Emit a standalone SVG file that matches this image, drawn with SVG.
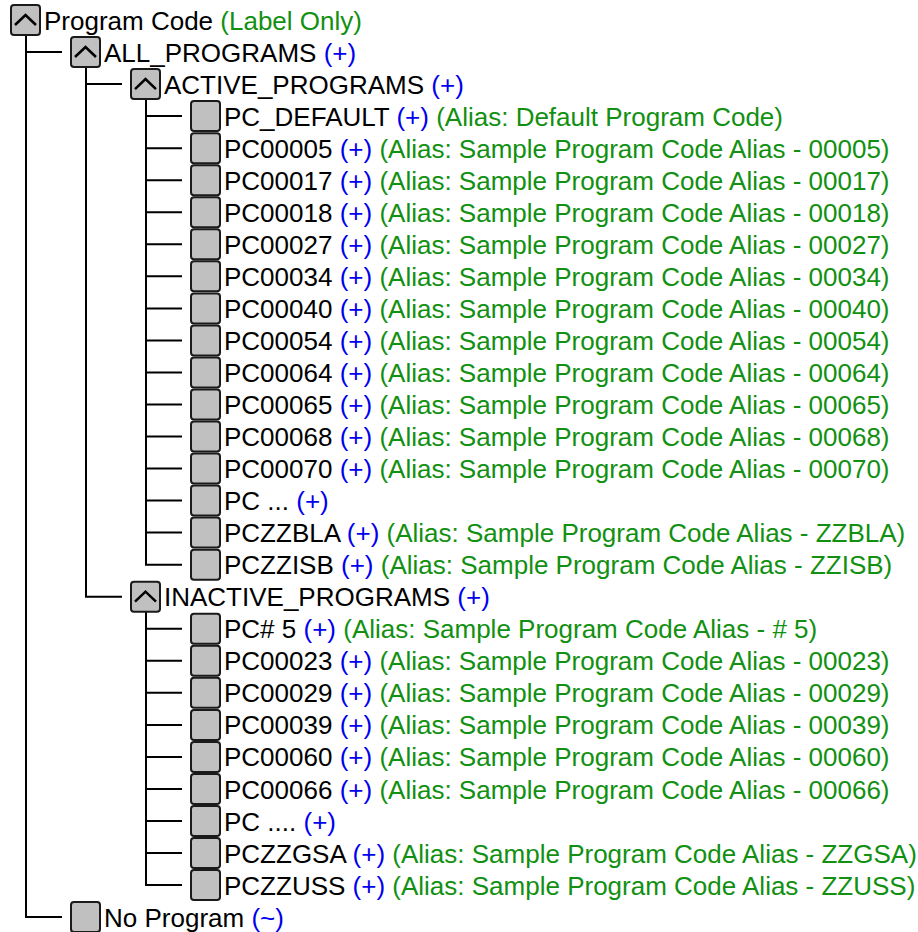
<svg xmlns="http://www.w3.org/2000/svg" xmlns:xlink="http://www.w3.org/1999/xlink" width="918" height="932" viewBox="0 0 918 932">
<style>
text{font-family:"Liberation Sans",Arial,sans-serif;font-size:26px;fill:#000}
.b{fill:#0000ee}
.g{fill:#119011}
.box{fill:#c0c0c0;stroke:#1a1a1a;stroke-width:2}
.chev{fill:none;stroke:#000;stroke-width:2.5}
.conn{fill:none;stroke:#000;stroke-width:2}
</style>
<defs>
<rect id="leaf" class="box" x="0" y="-15" width="29" height="30" rx="3"/>
<g id="open"><rect class="box" x="0" y="-15" width="29" height="30" rx="3"/><path class="chev" d="M4,5 L14.5,-5 L25,5"/></g>
</defs>
<rect width="918" height="932" fill="#fff"/>
<g id="connectors">
<path class="conn" d="M26,35 V917.1 H62 M26,52 H62"/>
<path class="conn" d="M86,67 V596.7 H122 M86,84.1 H122"/>
<path class="conn" d="M146,99 V564.7 H182 M146,116.1 H182 M146,148.2 H182 M146,180.2 H182 M146,212.2 H182 M146,244.3 H182 M146,276.3 H182 M146,308.4 H182 M146,340.4 H182 M146,372.4 H182 M146,404.5 H182 M146,436.5 H182 M146,468.6 H182 M146,500.6 H182 M146,532.6 H182"/>
<path class="conn" d="M146,611 V885.1 H182 M146,628.8 H182 M146,660.8 H182 M146,692.8 H182 M146,724.9 H182 M146,756.9 H182 M146,789 H182 M146,821 H182 M146,853 H182"/>
</g>
<g id="n0"><use xlink:href="#open" x="11" y="20"/><text x="44" y="29.5">Program Code<tspan class="g"> (Label Only)</tspan></text></g>
<g id="n1"><use xlink:href="#open" x="71" y="52"/><text x="104" y="61.5">ALL_PROGRAMS<tspan class="b"> (+)</tspan></text></g>
<g id="n2"><use xlink:href="#open" x="131" y="84.1"/><text x="164" y="93.6">ACTIVE_PROGRAMS<tspan class="b"> (+)</tspan></text></g>
<g id="n3"><use xlink:href="#leaf" x="191" y="116.1"/><text x="224" y="125.6">PC_DEFAULT<tspan class="b"> (+)</tspan><tspan class="g"> (Alias: Default Program Code)</tspan></text></g>
<g id="n4"><use xlink:href="#leaf" x="191" y="148.2"/><text x="224" y="157.7">PC00005<tspan class="b"> (+)</tspan><tspan class="g"> (Alias: Sample Program Code Alias - 00005)</tspan></text></g>
<g id="n5"><use xlink:href="#leaf" x="191" y="180.2"/><text x="224" y="189.7">PC00017<tspan class="b"> (+)</tspan><tspan class="g"> (Alias: Sample Program Code Alias - 00017)</tspan></text></g>
<g id="n6"><use xlink:href="#leaf" x="191" y="212.2"/><text x="224" y="221.7">PC00018<tspan class="b"> (+)</tspan><tspan class="g"> (Alias: Sample Program Code Alias - 00018)</tspan></text></g>
<g id="n7"><use xlink:href="#leaf" x="191" y="244.3"/><text x="224" y="253.8">PC00027<tspan class="b"> (+)</tspan><tspan class="g"> (Alias: Sample Program Code Alias - 00027)</tspan></text></g>
<g id="n8"><use xlink:href="#leaf" x="191" y="276.3"/><text x="224" y="285.8">PC00034<tspan class="b"> (+)</tspan><tspan class="g"> (Alias: Sample Program Code Alias - 00034)</tspan></text></g>
<g id="n9"><use xlink:href="#leaf" x="191" y="308.4"/><text x="224" y="317.9">PC00040<tspan class="b"> (+)</tspan><tspan class="g"> (Alias: Sample Program Code Alias - 00040)</tspan></text></g>
<g id="n10"><use xlink:href="#leaf" x="191" y="340.4"/><text x="224" y="349.9">PC00054<tspan class="b"> (+)</tspan><tspan class="g"> (Alias: Sample Program Code Alias - 00054)</tspan></text></g>
<g id="n11"><use xlink:href="#leaf" x="191" y="372.4"/><text x="224" y="381.9">PC00064<tspan class="b"> (+)</tspan><tspan class="g"> (Alias: Sample Program Code Alias - 00064)</tspan></text></g>
<g id="n12"><use xlink:href="#leaf" x="191" y="404.5"/><text x="224" y="414">PC00065<tspan class="b"> (+)</tspan><tspan class="g"> (Alias: Sample Program Code Alias - 00065)</tspan></text></g>
<g id="n13"><use xlink:href="#leaf" x="191" y="436.5"/><text x="224" y="446">PC00068<tspan class="b"> (+)</tspan><tspan class="g"> (Alias: Sample Program Code Alias - 00068)</tspan></text></g>
<g id="n14"><use xlink:href="#leaf" x="191" y="468.6"/><text x="224" y="478.1">PC00070<tspan class="b"> (+)</tspan><tspan class="g"> (Alias: Sample Program Code Alias - 00070)</tspan></text></g>
<g id="n15"><use xlink:href="#leaf" x="191" y="500.6"/><text x="224" y="510.1">PC ...<tspan class="b"> (+)</tspan></text></g>
<g id="n16"><use xlink:href="#leaf" x="191" y="532.6"/><text x="224" y="542.1">PCZZBLA<tspan class="b"> (+)</tspan><tspan class="g"> (Alias: Sample Program Code Alias - ZZBLA)</tspan></text></g>
<g id="n17"><use xlink:href="#leaf" x="191" y="564.7"/><text x="224" y="574.2">PCZZISB<tspan class="b"> (+)</tspan><tspan class="g"> (Alias: Sample Program Code Alias - ZZISB)</tspan></text></g>
<g id="n18"><use xlink:href="#open" x="131" y="596.7"/><text x="164" y="606.2">INACTIVE_PROGRAMS<tspan class="b"> (+)</tspan></text></g>
<g id="n19"><use xlink:href="#leaf" x="191" y="628.8"/><text x="224" y="638.3">PC# 5<tspan class="b"> (+)</tspan><tspan class="g"> (Alias: Sample Program Code Alias - # 5)</tspan></text></g>
<g id="n20"><use xlink:href="#leaf" x="191" y="660.8"/><text x="224" y="670.3">PC00023<tspan class="b"> (+)</tspan><tspan class="g"> (Alias: Sample Program Code Alias - 00023)</tspan></text></g>
<g id="n21"><use xlink:href="#leaf" x="191" y="692.8"/><text x="224" y="702.3">PC00029<tspan class="b"> (+)</tspan><tspan class="g"> (Alias: Sample Program Code Alias - 00029)</tspan></text></g>
<g id="n22"><use xlink:href="#leaf" x="191" y="724.9"/><text x="224" y="734.4">PC00039<tspan class="b"> (+)</tspan><tspan class="g"> (Alias: Sample Program Code Alias - 00039)</tspan></text></g>
<g id="n23"><use xlink:href="#leaf" x="191" y="756.9"/><text x="224" y="766.4">PC00060<tspan class="b"> (+)</tspan><tspan class="g"> (Alias: Sample Program Code Alias - 00060)</tspan></text></g>
<g id="n24"><use xlink:href="#leaf" x="191" y="789"/><text x="224" y="798.5">PC00066<tspan class="b"> (+)</tspan><tspan class="g"> (Alias: Sample Program Code Alias - 00066)</tspan></text></g>
<g id="n25"><use xlink:href="#leaf" x="191" y="821"/><text x="224" y="830.5">PC ....<tspan class="b"> (+)</tspan></text></g>
<g id="n26"><use xlink:href="#leaf" x="191" y="853"/><text x="224" y="862.5">PCZZGSA<tspan class="b"> (+)</tspan><tspan class="g"> (Alias: Sample Program Code Alias - ZZGSA)</tspan></text></g>
<g id="n27"><use xlink:href="#leaf" x="191" y="885.1"/><text x="224" y="894.6">PCZZUSS<tspan class="b"> (+)</tspan><tspan class="g"> (Alias: Sample Program Code Alias - ZZUSS)</tspan></text></g>
<g id="n28"><use xlink:href="#leaf" x="71" y="917.1"/><text x="104" y="926.6">No Program<tspan class="b"> (~)</tspan></text></g>
</svg>
